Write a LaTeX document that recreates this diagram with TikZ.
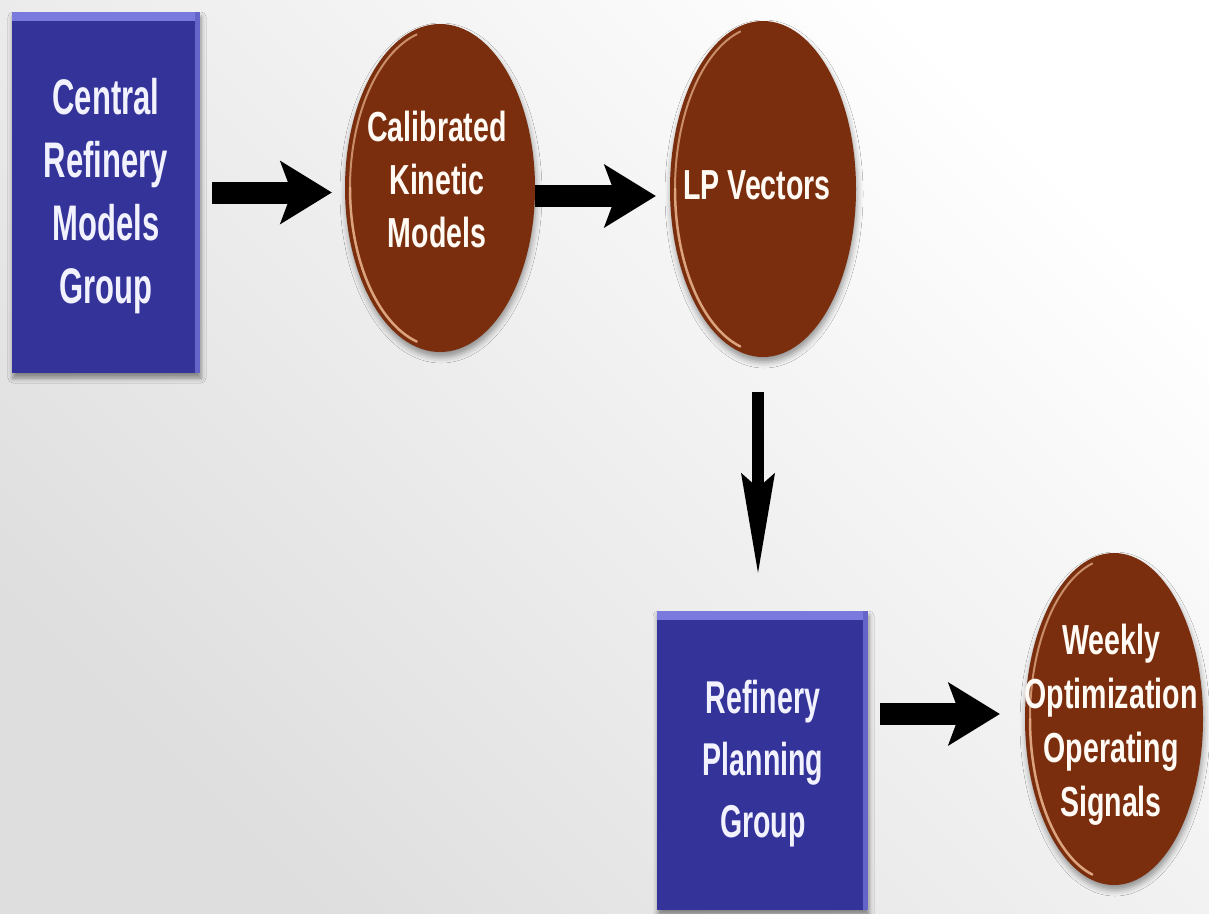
\documentclass[tikz,border=0pt]{standalone}
\usepackage{fontspec}
\setmainfont{Liberation Sans}
\newfontfamily\condfont[FakeStretch=0.62]{Liberation Sans}
\newfontfamily\circfont[FakeStretch=0.68]{Liberation Sans}
\usetikzlibrary{shapes.geometric,arrows.meta,shadows.blur}
\definecolor{boxblue}{RGB}{51,51,153}
\definecolor{boxlight}{RGB}{122,122,222}
\definecolor{ballbrown}{RGB}{122,46,14}
\definecolor{ballhi}{RGB}{236,184,146}
\definecolor{bglow}{RGB}{222,222,222}
\definecolor{boxtext}{RGB}{242,242,255}
\definecolor{balltext}{RGB}{255,250,244}
\begin{document}
\begin{tikzpicture}[x=1pt,y=-1pt,
  bluebox/.style={rectangle, fill=boxblue, inner sep=0pt,
    blur shadow={shadow xshift=1pt, shadow yshift=-5pt, shadow blur radius=5pt, shadow opacity=45},
    path picture={
      \fill[boxlight] (path picture bounding box.north west) rectangle ([yshift=-9pt]path picture bounding box.north east);
      \fill[boxlight!70!boxblue] ([xshift=-5pt]path picture bounding box.north east) rectangle (path picture bounding box.south east);
    }},
  ball/.style 2 args={ellipse, fill=ballbrown, inner sep=0pt,
    minimum width=#1*2pt, minimum height=#2*2pt,
    blur shadow={shadow xshift=1pt, shadow yshift=-5pt, shadow blur radius=6pt, shadow opacity=40},
    path picture={
      \draw[ballhi, line width=2.5pt, line cap=round, opacity=0.85]
        ([xshift=5pt]path picture bounding box.west) arc[start angle=180, end angle=255, x radius=#1pt-5pt, y radius=#2pt-5pt];
      \draw[ballhi, line width=2pt, line cap=round, opacity=0.7]
        ([xshift=5pt]path picture bounding box.west) arc[start angle=180, end angle=105, x radius=#1pt-5pt, y radius=#2pt-5pt];
    }},
  boxtxt/.style={text=boxtext, align=center, inner sep=0pt},
  balltxt/.style={text=balltext, align=center, inner sep=0pt,
    font=\circfont\bfseries\fontsize{42}{53}\selectfont},
  harrow/.style={line width=22pt, -{Stealth[length=52pt, width=64pt, inset=12pt, line width=0pt]}},
  varrow/.style={line width=12pt, -{Stealth[length=100pt, width=34pt, inset=15pt, line width=0pt]}}
]
\useasboundingbox (0,0) rectangle (1209,913);
\shade[top color=white, bottom color=bglow, shading angle=-45] (0,0) rectangle (1209,913);

% shapes
\node[bluebox, minimum width=188pt, minimum height=361pt] (b1) at (106,192.5) {};
\node[ball={95}{164}] (c1) at (440,188) {};
\node[ball={93}{168}] (c2) at (763,189) {};
\node[bluebox, minimum width=211pt, minimum height=299pt] (b2) at (762.5,760.5) {};
\node[ball={89}{166}] (c3) at (1114,719) {};

% texts
\node[boxtxt, font=\condfont\bfseries\fontsize{50}{63}\selectfont] (t1) at (106,196) {Central\\Refinery\\Models\\Group};
\node[balltxt] (t2) at (437,179) {Calibrated\\Kinetic\\Models};
\node[balltxt] (t3) at (757,185) {LP Vectors};
\node[boxtxt, font=\condfont\bfseries\fontsize{46}{62}\selectfont] (t4) at (763,764) {Refinery\\Planning\\Group};
\node[balltxt, font=\circfont\bfseries\fontsize{42}{54}\selectfont] (t5) at (1111,725) {Weekly\\Optimization\\Operating\\Signals};

% connectors
\draw[harrow, shorten <=12pt, shorten >=13pt] (b1.east) -- (b1.east -| c1.west);
\draw[harrow, shorten >=14pt] ([yshift=-8pt]c1.east) -- ([yshift=-8pt]c1.east -| c2.west);
\draw[varrow, shorten <=35pt, shorten >=38pt] ([xshift=-5pt]c2.south) -- ([xshift=-5pt]c2.south |- b2.north);
\draw[harrow, shorten <=12pt, shorten >=25pt] ([yshift=5pt]b2.east |- c3.west) -- ([yshift=5pt]c3.west);
\end{tikzpicture}
\end{document}
